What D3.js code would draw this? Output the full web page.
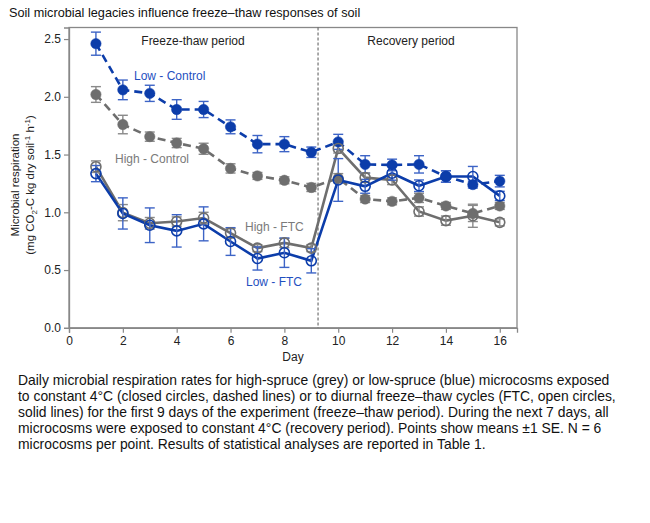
<!DOCTYPE html>
<html><head><meta charset="utf-8">
<script src="https://cdn.jsdelivr.net/npm/d3@7"></script>
<style>
body{margin:0;background:#fff;font-family:"Liberation Sans",Arial,Helvetica,sans-serif;}
svg text{font-family:"Liberation Sans",Arial,Helvetica,sans-serif;}
</style></head>
<body>
<svg id="c" width="650" height="523"></svg>
<script>
const days = [1,2,3,4,5,6,7,8,9,10,11,12,13,14,15,16];
const lowControl   = [2.46,2.06,2.03,1.89,1.89,1.74,1.59,1.59,1.52,1.61,1.415,1.41,1.415,1.31,1.24,1.27];
const lowControlSE = [0.10,0.085,0.07,0.085,0.07,0.06,0.075,0.065,0.045,0.065,0.075,0.05,0.075,0.05,0.03,0.05];
const highControl   = [2.02,1.76,1.655,1.60,1.55,1.38,1.315,1.277,1.215,1.295,1.115,1.095,1.125,1.055,0.99,1.055];
const highControlSE = [0.068,0.08,0.04,0.04,0.048,0.04,0.03,0.03,0.035,0.04,0.03,0.03,0.04,0.03,0.07,0.03];
const lowFTC   = [1.335,0.99,0.888,0.839,0.90,0.747,0.60,0.65,0.58,1.28,1.225,1.338,1.23,1.31,1.31,1.142];
const lowFTCSE = [0.07,0.135,0.15,0.14,0.147,0.12,0.10,0.127,0.105,0.185,0.06,0.06,0.05,0.05,0.087,0.04];
const highFTC   = [1.395,0.997,0.905,0.92,0.95,0.82,0.69,0.735,0.69,1.553,1.30,1.28,1.007,0.928,0.97,0.913];
const highFTCSE = [0.05,0.07,0.05,0.04,0.05,0.04,0.03,0.04,0.03,0.04,0.04,0.04,0.04,0.04,0.10,0.03];
const xTicks = [0,2,4,6,8,10,12,14,16];
const yTicks = [0,0.5,1.0,1.5,2.0,2.5];
const periodSplit = 9.25;
const title = "Soil microbial legacies influence freeze\u2013thaw responses of soil";
const captionLines = [
 "Daily microbial respiration rates for high-spruce (grey) or low-spruce (blue) microcosms exposed",
 "to constant 4\u00B0C (closed circles, dashed lines) or to diurnal freeze\u2013thaw cycles (FTC, open circles,",
 "solid lines) for the first 9 days of the experiment (freeze\u2013thaw period). During the next 7 days, all",
 "microcosms were exposed to constant 4\u00B0C (recovery period). Points show means \u00B11 SE. N = 6",
 "microcosms per point. Results of statistical analyses are reported in Table 1."
];

const BLUE = "#0c3daa", BLUE_ERR = "#3d64c6", GREY = "#6e6e6e", GREY_ERR = "#8a8a8a";
const series = [
  {name:"High - Control", v:highControl, se:highControlSE, color:GREY, err:GREY_ERR, dashed:true, open:false},
  {name:"Low - Control", v:lowControl, se:lowControlSE, color:BLUE, err:BLUE_ERR, dashed:true, open:false},
  {name:"High - FTC", v:highFTC, se:highFTCSE, color:GREY, err:GREY_ERR, dashed:false, open:true},
  {name:"Low - FTC", v:lowFTC, se:lowFTCSE, color:BLUE, err:BLUE_ERR, dashed:false, open:true}
];

const svg = d3.select("#c");
const L=69, R=517, T=27.5, B=327.8;
const x = d3.scaleLinear().domain([0,16.64]).range([L,R]);
const y = d3.scaleLinear().domain([0,2.6]).range([B,T]);

svg.append("text").attr("x",9).attr("y",17).attr("font-size",12.7).attr("fill","#111").text(title);

// frame
svg.append("rect").attr("x",L).attr("y",T).attr("width",R-L).attr("height",B-T)
  .attr("fill","none").attr("stroke","#888").attr("stroke-width",1.3);

const xa = svg.append("g").attr("transform",`translate(0,${B})`)
  .call(d3.axisBottom(x).tickValues(xTicks).tickSize(5).tickPadding(4).tickFormat(d3.format("d")));
const ya = svg.append("g").attr("transform",`translate(${L},0)`)
  .call(d3.axisLeft(y).tickValues(yTicks).tickSize(5).tickPadding(3).tickFormat(d3.format(".1f")));
[xa,ya].forEach(a=>{
  a.select(".domain").attr("stroke","#888").attr("stroke-width",1.3);
  a.selectAll(".tick line").attr("stroke","#888").attr("stroke-width",1.2);
  a.selectAll(".tick text").attr("font-size",12).attr("fill","#222");
});

svg.append("text").attr("x",(L+R)/2-0).attr("y",361).attr("text-anchor","middle")
  .attr("font-size",12).attr("fill","#222").text("Day");

const yl = svg.append("text").attr("transform",`translate(19,185) rotate(-90)`)
  .attr("text-anchor","middle").attr("font-size",11.5).attr("fill","#222");
yl.append("tspan").attr("x",0).attr("dy",0).text("Microbial respiration");
const t2 = yl.append("tspan").attr("x",0).attr("dy",15).text("(mg CO");
t2.append("tspan").attr("font-size",8).attr("dy",3).text("2");
yl.append("tspan").attr("font-size",11.5).attr("dy",-3).text("-C kg dry soil");
yl.append("tspan").attr("font-size",8).attr("dy",-4).text("-1");
yl.append("tspan").attr("font-size",11.5).attr("dy",4).text(" h");
yl.append("tspan").attr("font-size",8).attr("dy",-4).text("-1");
yl.append("tspan").attr("font-size",11.5).attr("dy",4).text(")");

// split line
svg.append("line").attr("x1",x(periodSplit)).attr("x2",x(periodSplit)).attr("y1",T).attr("y2",B)
  .attr("stroke","#555").attr("stroke-width",1).attr("stroke-dasharray","3,2");

svg.append("text").attr("x",193).attr("y",45).attr("text-anchor","middle").attr("font-size",12).attr("fill","#222").text("Freeze-thaw period");
svg.append("text").attr("x",411).attr("y",45).attr("text-anchor","middle").attr("font-size",12).attr("fill","#222").text("Recovery period");

const line = d3.line().x((d,i)=>x(days[i])).y(d=>y(d));
series.forEach(s=>{
  svg.append("path").datum(s.v).attr("d",line).attr("fill","none")
    .attr("stroke",s.color).attr("stroke-width",2.6)
    .attr("stroke-dasharray",s.dashed?"8,5":null);
});
series.forEach(s=>{
  const g = svg.append("g").attr("stroke",s.err).attr("stroke-width",1.4);
  s.v.forEach((v,i)=>{
    const cx=x(days[i]), y1=y(v+s.se[i]), y2=y(v-s.se[i]);
    g.append("line").attr("x1",cx).attr("x2",cx).attr("y1",y1).attr("y2",y2);
    g.append("line").attr("x1",cx-5).attr("x2",cx+5).attr("y1",y1).attr("y2",y1);
    g.append("line").attr("x1",cx-5).attr("x2",cx+5).attr("y1",y2).attr("y2",y2);
  });
});
series.forEach(s=>{
  svg.append("g").selectAll("circle").data(s.v).join("circle")
    .attr("cx",(d,i)=>x(days[i])).attr("cy",d=>y(d))
    .attr("r",s.open?5:5.2)
    .attr("fill",s.open?"none":s.color)
    .attr("stroke",s.color).attr("stroke-width",s.open?1.6:0.5);
});

const labels = [
  {t:"Low - Control", x:134, y:80, c:"#1f4fbf"},
  {t:"High - Control", x:115, y:162.5, c:"#7a7a7a"},
  {t:"High - FTC", x:245, y:231, c:"#7a7a7a"},
  {t:"Low - FTC", x:246, y:286, c:"#1f4fbf"}
];
labels.forEach(l=>svg.append("text").attr("x",l.x).attr("y",l.y).attr("font-size",12).attr("fill",l.c).text(l.t));

const cap = svg.append("text").attr("font-size",13.9).attr("fill","#111");
captionLines.forEach((t,i)=>cap.append("tspan").attr("x",18).attr("y",385+i*16).text(t));
</script>
</body></html>
